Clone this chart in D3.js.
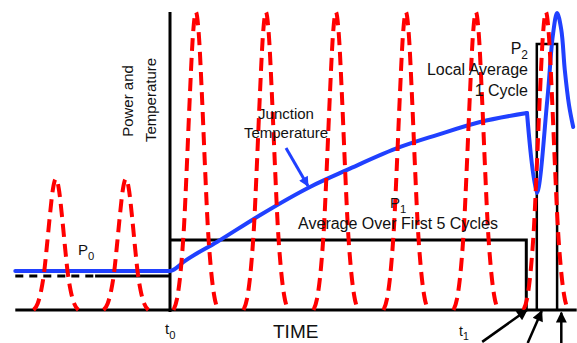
<html>
<script src="https://d3js.org/d3.v7.min.js"></script>
<style>
  body { margin: 0; background: #fff; }
  text { font-family: "Liberation Sans", Arial, sans-serif; fill: #111; }
</style>
<body>
<svg width="577" height="343"></svg>
<script>
// time in ms (one cycle = 10), value in % of peak power
var smallPulseCenters = [-16.3, -6.3];
var smallPulsePeak = 44;
var pulseCenters = [3.7, 13.7, 23.7, 33.7, 43.7, 53.7];
var pulsePeak = 100;
// pulse shape: offset in time, fraction of peak
var pulseOffsets = [-3.2, -2.6, -2.1, -1.7, -1.3, -0.9, -0.4, 0, 0.4, 0.9, 1.3, 1.7, 2.1, 2.6, 3.2];
var pulseShape   = [0, 0.05, 0.15, 0.28, 0.48, 0.70, 0.93, 1, 0.93, 0.70, 0.48, 0.28, 0.15, 0.05, 0];

var tempTime  = [-22.1, 0, 0.4, 2.1, 6.7, 12.9, 20, 25.3, 32.9, 38.1, 44.3, 51.0];
var tempValue = [13.1, 13.1, 13.4, 16.4, 22.8, 31.9, 41.3, 47.0, 54.7, 58.7, 63.1, 66.1];
var spikeTime  = [51.0, 52.4, 53.9, 54.7, 55.3, 55.9, 56.4, 57.0, 57.6];
var spikeValue = [66.1, 39.3, 70.5, 92.3, 99.7, 94.0, 80.5, 68.8, 61.4];

var p0Level = 11.4, p0DashEnd = -10.7;
var p1Level = 23.5, t1 = 50.9;
var p2Level = 89.3, p2Start = 52.4, p2End = 55.3;
var timeStart = -22.1, timeEnd = 58.1;

var x = d3.scaleLinear().domain([0, 10]).range([170, 240]);
var y = d3.scaleLinear().domain([0, 100]).range([310, 12]);

var svg = d3.select("svg");
var line = d3.line().x(function(d) { return x(d[0]); }).y(function(d) { return y(d[1]); });

// black lines
svg.append("path")
  .attr("d", line([[timeStart, 0], [timeEnd, 0]]))
  .attr("stroke", "#000").attr("stroke-width", 3).attr("fill", "none");
svg.append("path")
  .attr("d", line([[0, -0.7], [0, 100]]))
  .attr("stroke", "#000").attr("stroke-width", 3).attr("fill", "none");
svg.append("path")
  .attr("d", line([[timeStart, p0Level], [p0DashEnd, p0Level]]))
  .attr("stroke", "#000").attr("stroke-width", 3).attr("stroke-dasharray", "8,6").attr("fill", "none");
svg.append("path")
  .attr("d", line([[p0DashEnd, p0Level], [0, p0Level]]))
  .attr("stroke", "#000").attr("stroke-width", 3).attr("fill", "none");
svg.append("path")
  .attr("d", line([[0, p1Level], [t1, p1Level], [t1, 0]]))
  .attr("stroke", "#000").attr("stroke-width", 3).attr("fill", "none");
svg.append("path")
  .attr("d", line([[p2Start, 0], [p2Start, p2Level], [p2End, p2Level], [p2End, 0]]))
  .attr("stroke", "#000").attr("stroke-width", 2.5).attr("fill", "none");

// junction temperature
var tempPts = tempTime.map(function(t, i) { return [t, tempValue[i]]; });
svg.append("path")
  .attr("d", line.curve(d3.curveMonotoneX)(tempPts))
  .attr("stroke", "#2040ff").attr("stroke-width", 4).attr("fill", "none")
  .attr("stroke-linejoin", "round").attr("stroke-linecap", "round");
var spikePts = spikeTime.map(function(t, i) { return [t, spikeValue[i]]; });
svg.append("path")
  .attr("d", line.curve(d3.curveCatmullRom)(spikePts))
  .attr("stroke", "#2040ff").attr("stroke-width", 4).attr("fill", "none")
  .attr("stroke-linejoin", "round").attr("stroke-linecap", "round");

// power pulses
var pulses = smallPulseCenters.map(function(c) { return {c: c, peak: smallPulsePeak}; })
  .concat(pulseCenters.map(function(c) { return {c: c, peak: pulsePeak}; }));
var pulseLine = d3.line().curve(d3.curveMonotoneX)
  .x(function(d) { return x(d[0]); }).y(function(d) { return y(d[1]); });
svg.append("g").selectAll("path")
  .data(pulses)
  .enter()
  .append("path")
    .attr("d", function(p) {
      return pulseLine(pulseOffsets.map(function(o, i) { return [p.c + o, p.peak * pulseShape[i]]; }));
    })
    .attr("stroke", "#ff0000").attr("stroke-width", 4).attr("fill", "none")
    .attr("stroke-dasharray", "13,7");

// arrows
var defs = svg.append("defs");
defs.append("marker").attr("id", "headBlue")
  .attr("viewBox", "0 0 10 10").attr("refX", 9).attr("refY", 5)
  .attr("markerUnits", "userSpaceOnUse").attr("markerWidth", 12).attr("markerHeight", 10)
  .attr("orient", "auto")
  .append("path").attr("d", "M0,0L10,5L0,10Z").attr("fill", "#2040ff");
defs.append("marker").attr("id", "headBlack")
  .attr("viewBox", "0 0 10 10").attr("refX", 9).attr("refY", 5)
  .attr("markerUnits", "userSpaceOnUse").attr("markerWidth", 14).attr("markerHeight", 11)
  .attr("orient", "auto")
  .append("path").attr("d", "M0,0L10,5L0,10Z").attr("fill", "#000");

svg.append("line").attr("x1", 286).attr("y1", 148).attr("x2", 308).attr("y2", 186)
  .attr("stroke", "#2040ff").attr("stroke-width", 3).attr("marker-end", "url(#headBlue)");

var arrows = [[44.6, -10.7, 51.0, 0], [51.1, -11.1, 53.1, -0.3], [55.9, -11.1, 55.9, -0.9]];
svg.append("g").selectAll("line")
  .data(arrows)
  .enter()
  .append("line")
    .attr("x1", function(d) { return x(d[0]); }).attr("y1", function(d) { return y(d[1]); })
    .attr("x2", function(d) { return x(d[2]); }).attr("y2", function(d) { return y(d[3]); })
    .attr("stroke", "#000").attr("stroke-width", 2.5).attr("marker-end", "url(#headBlack)");

// labels
svg.append("text").attr("transform", "translate(133,101) rotate(-90)")
  .attr("text-anchor", "middle").attr("font-size", 15).text("Power and");
svg.append("text").attr("transform", "translate(156,100) rotate(-90)")
  .attr("text-anchor", "middle").attr("font-size", 15).text("Temperature");

svg.append("text").attr("x", 286).attr("y", 119).attr("text-anchor", "middle")
  .attr("font-size", 15).text("Junction");
svg.append("text").attr("x", 286).attr("y", 138).attr("text-anchor", "middle")
  .attr("font-size", 15).text("Temperature");

function sub(xp, yp, main, s, size, anchor) {
  var t = svg.append("text").attr("x", xp).attr("y", yp).attr("font-size", size)
    .attr("text-anchor", anchor || "start");
  t.append("tspan").text(main);
  t.append("tspan").attr("dy", size * 0.3).attr("font-size", size * 0.75).text(s);
  return t;
}
sub(78, 255, "P", "0", 15);
sub(390, 208, "P", "1", 15);
svg.append("text").attr("x", 398).attr("y", 229).attr("text-anchor", "middle")
  .attr("font-size", 16).text("Average Over First 5 Cycles");
sub(528, 54, "P", "2", 16, "end");
svg.append("text").attr("x", 528).attr("y", 75).attr("text-anchor", "end")
  .attr("font-size", 16).text("Local Average");
svg.append("text").attr("x", 528).attr("y", 96).attr("text-anchor", "end")
  .attr("font-size", 16).text("1 Cycle");

sub(165, 334, "t", "0", 15);
svg.append("text").attr("x", 273).attr("y", 338).attr("font-size", 19).text("TIME");
sub(459, 336, "t", "1", 14);
</script>
</body>
</html>
